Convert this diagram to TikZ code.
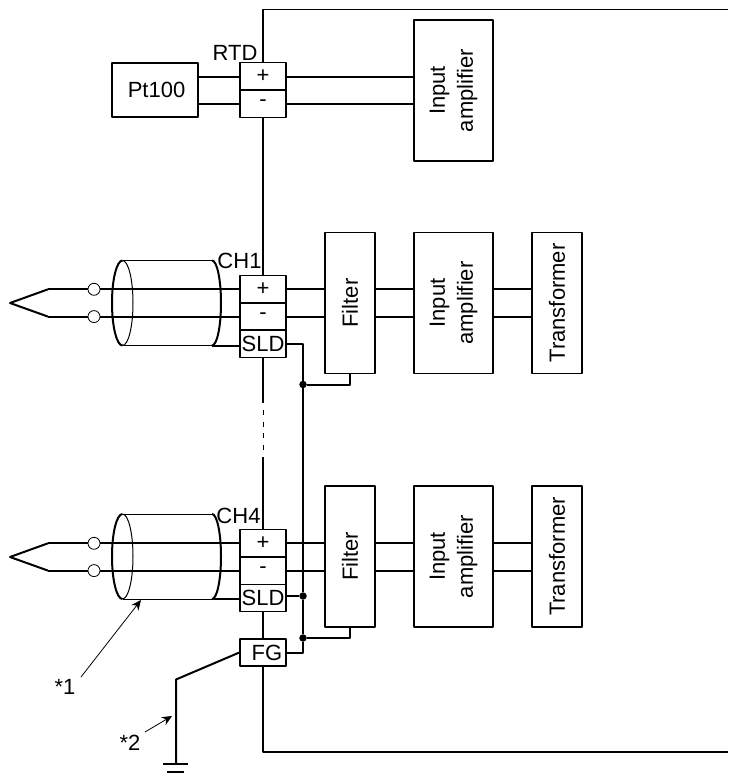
\documentclass[tikz,border=0pt]{standalone}
\usepackage{fontspec}
\setmainfont{Liberation Sans}
\usetikzlibrary{arrows.meta}
\tikzset{
	boxlabel/.style={draw,line width=1.3pt,fill=white,inner sep=0pt,align=center},
	cell/.style={boxlabel,minimum width=46,minimum height=27.3},
	vbox/.style={boxlabel,rotate=90,minimum height=50,minimum width=141},
	ampbox/.style={boxlabel,rotate=90,minimum height=79,minimum width=141},
	wire/.style={line width=2pt},
	skin/.style={line width=1pt},
	dot/.style={circle,fill=black,inner sep=0pt,minimum size=7.5},
	hole/.style={circle,draw,line width=.8pt,fill=white,inner sep=0pt,minimum size=12},
	tag/.style={inner sep=0pt},
	note/.style={line width=.8pt,-{Stealth[length=10pt,width=9pt]}}
}
\begin{document}
\begin{tikzpicture}[x=1pt,y=-1pt,line join=round,font=\fontsize{22}{28}\selectfont]
	\useasboundingbox (0,0) rectangle (728,776);
	%RTD
	\node[boxlabel,minimum width=86,minimum height=54] (Pt) at (155,90) {\hspace{3pt}Pt100};
	\node[cell] (RTDp) at (263,76.5) {+};
	\node[cell] (RTDm) at (263,103.5) {-};
	\node[tag] (RTD) at (235,53) {RTD};
	\node[ampbox] (AmpR) at (453.5,90.5) {Input\\amplifier};
	\draw[wire] (Pt.east|-RTDp)--(RTDp.west);
	\draw[wire] (Pt.east|-RTDm)--(RTDm.west);
	\draw[wire] (RTDp.east)--(AmpR.north|-RTDp);
	\draw[wire] (RTDm.east)--(AmpR.north|-RTDm);
	%CH1
	\node[cell] (Ap) at (263,289.3) {+};
	\node[cell] (Am) at (263,316.6) {-};
	\node[cell] (As) at (263,343.7) {SLD};
	\node[tag] (CHa) at (239.5,261) {CH1};
	\node[vbox] (FilA) at (350,303) {Filter};
	\node[ampbox] (AmpA) at (453.5,303) {Input\\amplifier};
	\node[vbox] (TrA) at (557,303) {Transformer};
	\path (10,303) coordinate (Ca) (48,289.3) coordinate (Cb) (48,316.6) coordinate (Cc);
	\draw[wire] (Cb)--(Ca)--(Cc);
	\draw[wire] (Cb)--(Ap.west);
	\draw[wire] (Cc)--(Am.west);
	\node[hole] (Ha) at (94,289.3) {};
	\node[hole] (Hb) at (94,316.6) {};
	\path (122.5,260.5) coordinate (Ea) (122.5,345.5) coordinate (Eb)
	(212,260.5) coordinate (Ec) (212,345.5) coordinate (Ed);
	\draw[skin] (Ea)--(Ec) (Eb)--(Ed);
	\draw[skin] (Ea) arc (-90:90:10.5 and 42.5);
	\draw[wire] (Ea) arc (-90:-270:10.5 and 42.5);
	\draw[wire] (Ec) arc (-90:90:9 and 42.5);
	\draw[wire] (Ed)--(As.west|-Ed);
	\draw[wire] (Ap.east)--(FilA.north|-Ap);
	\draw[wire] (Am.east)--(FilA.north|-Am);
	\draw[wire] (FilA.south|-Ap)--(AmpA.north|-Ap);
	\draw[wire] (FilA.south|-Am)--(AmpA.north|-Am);
	\draw[wire] (AmpA.south|-Ap)--(TrA.north|-Ap);
	\draw[wire] (AmpA.south|-Am)--(TrA.north|-Am);
	%CH4
	\node[cell] (Bp) at (263,543.3) {+};
	\node[cell] (Bm) at (263,570.6) {-};
	\node[cell] (Bs) at (263,598) {SLD};
	\node[tag] (CHb) at (238.5,516) {CH4};
	\node[vbox] (FilB) at (350,556.5) {Filter};
	\node[ampbox] (AmpB) at (453.5,556.5) {Input\\amplifier};
	\node[vbox] (TrB) at (557,556.5) {Transformer};
	\path (10,557) coordinate (Da) (48,543.3) coordinate (Db) (48,570.6) coordinate (Dc);
	\draw[wire] (Db)--(Da)--(Dc);
	\draw[wire] (Db)--(Bp.west);
	\draw[wire] (Dc)--(Bm.west);
	\node[hole] (Hc) at (94,543.3) {};
	\node[hole] (Hd) at (94,570.6) {};
	\path (122.5,514) coordinate (Fa) (122.5,599) coordinate (Fb)
	(212,514) coordinate (Fc) (212,599) coordinate (Fd);
	\draw[skin] (Fa)--(Fc) (Fb)--(Fd);
	\draw[skin] (Fa) arc (-90:90:10.5 and 42.5);
	\draw[wire] (Fa) arc (-90:-270:10.5 and 42.5);
	\draw[wire] (Fc) arc (-90:90:9 and 42.5);
	\draw[wire] (Fd)--(Bs.west|-Fd);
	\draw[wire] (Bp.east)--(FilB.north|-Bp);
	\draw[wire] (Bm.east)--(FilB.north|-Bm);
	\draw[wire] (FilB.south|-Bp)--(AmpB.north|-Bp);
	\draw[wire] (FilB.south|-Bm)--(AmpB.north|-Bm);
	\draw[wire] (AmpB.south|-Bp)--(TrB.north|-Bp);
	\draw[wire] (AmpB.south|-Bm)--(TrB.north|-Bm);
	%Shield bus
	\node[cell,minimum height=27] (FG) at (263,652.5) {\hspace{8pt}FG};
	\node[dot] (Ka) at (303,384.5) {};
	\node[dot] (Kb) at (303,596) {};
	\node[dot] (Kc) at (303,638) {};
	\draw[wire] (As.east)--(303,343.7)--(Ka);
	\draw[wire] (Ka)--(Kb)--(Kc)--(303,652.5)--(FG.east);
	\draw[wire] (Bs.east|-Kb)--(Kb);
	\draw[wire] (FilA.west)--(FilA.west|-Ka)--(Ka);
	\draw[wire] (FilB.west)--(FilB.west|-Kc)--(Kc);
	%Frame
	\path (728,9.5) coordinate (T1) (263,9.5) coordinate (T2)
	(263,403) coordinate (D1) (263,457) coordinate (D2)
	(263,751.5) coordinate (B1) (728,751.5) coordinate (B2);
	\draw[line width=1.3pt] (T1)--(T2)--(RTDp.north);
	\draw[wire] (RTDm.south)--(Ap.north);
	\draw[wire] (As.south)--(D1);
	\draw[line width=1pt,dash pattern=on 5pt off 6.7pt] (263,410)--(D2);
	\draw[wire] (D2)--(Bp.north);
	\draw[wire] (Bs.south)--(FG.north);
	\draw[wire] (FG.south)--(B1)--(B2);
	%Ground
	\path (176,679.5) coordinate (Ga) (176,764) coordinate (Gb)
	(163,764) coordinate (Gc) (188,764) coordinate (Gd)
	(167,772) coordinate (Ge) (184,772) coordinate (Gf);
	\draw[wire] (FG.west)--(Ga)--(Gb);
	\draw[wire] (Gc)--(Gd);
	\draw[wire] (Ge)--(Gf);
	%Notes
	\node[tag] (StarA) at (65,687) {*1};
	\node[tag] (StarB) at (130,743) {*2};
	\path (81,677) coordinate (Na) (141,600) coordinate (Nb)
	(145,732) coordinate (Nc) (172,716) coordinate (Nd);
	\draw[note] (Na)--(Nb);
	\draw[note] (Nc)--(Nd);
\end{tikzpicture}
\end{document}
